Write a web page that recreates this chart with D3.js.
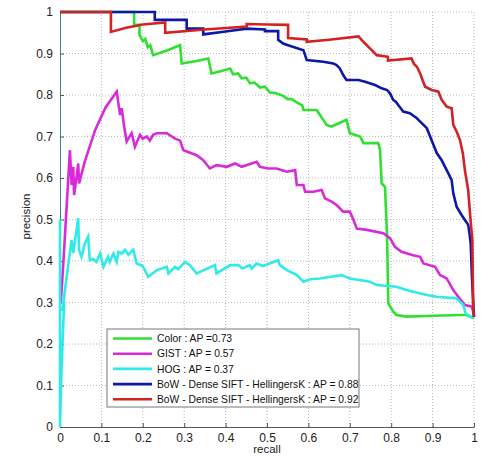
<!DOCTYPE html>
<html>
<head>
<meta charset="utf-8">
<script src="https://cdn.jsdelivr.net/npm/d3@7"></script>
<style>
  body { margin: 0; background: #fff; }
  svg { display: block; font-family: "Liberation Sans", Arial, sans-serif; }
</style>
</head>
<body>
<svg id="pr" width="481" height="459"></svg>
<script>
// precision-recall curves, [recall, precision]
const colorPts = [[0,1],[0.179,1],[0.179,0.969],[0.192,0.969],[0.192,0.945],[0.2,0.93],[0.206,0.935],[0.212,0.915],[0.218,0.92],[0.225,0.896],[0.26,0.908],[0.29,0.92],[0.294,0.876],[0.33,0.882],[0.358,0.888],[0.366,0.852],[0.39,0.858],[0.411,0.864],[0.418,0.85],[0.43,0.852],[0.439,0.84],[0.45,0.842],[0.459,0.828],[0.47,0.83],[0.483,0.818],[0.495,0.82],[0.507,0.806],[0.52,0.805],[0.539,0.798],[0.55,0.79],[0.56,0.79],[0.572,0.782],[0.585,0.775],[0.588,0.764],[0.62,0.764],[0.628,0.752],[0.636,0.74],[0.644,0.728],[0.656,0.724],[0.692,0.74],[0.7,0.708],[0.725,0.7],[0.733,0.684],[0.769,0.684],[0.773,0.667],[0.777,0.587],[0.785,0.579],[0.79,0.46],[0.793,0.298],[0.805,0.278],[0.813,0.27],[0.837,0.266],[0.902,0.268],[0.966,0.27],[0.982,0.27],[1,0.262]];
const gistPts = [[0.002,0.3],[0.008,0.394],[0.024,0.667],[0.028,0.583],[0.032,0.627],[0.034,0.559],[0.04,0.603],[0.044,0.635],[0.046,0.587],[0.06,0.64],[0.085,0.716],[0.11,0.77],[0.137,0.808],[0.145,0.752],[0.149,0.768],[0.155,0.724],[0.161,0.688],[0.173,0.708],[0.181,0.675],[0.193,0.704],[0.2,0.695],[0.21,0.7],[0.217,0.69],[0.225,0.704],[0.234,0.708],[0.258,0.708],[0.278,0.695],[0.29,0.69],[0.298,0.667],[0.33,0.655],[0.346,0.643],[0.362,0.623],[0.378,0.631],[0.403,0.627],[0.423,0.635],[0.439,0.627],[0.475,0.639],[0.483,0.627],[0.503,0.623],[0.523,0.623],[0.548,0.615],[0.568,0.619],[0.572,0.583],[0.588,0.583],[0.592,0.567],[0.612,0.567],[0.632,0.571],[0.64,0.551],[0.656,0.543],[0.668,0.535],[0.684,0.519],[0.7,0.519],[0.709,0.499],[0.717,0.478],[0.741,0.475],[0.781,0.467],[0.797,0.455],[0.809,0.434],[0.825,0.422],[0.853,0.414],[0.87,0.41],[0.878,0.394],[0.906,0.386],[0.918,0.366],[0.934,0.358],[0.95,0.33],[0.962,0.314],[0.978,0.294],[0.995,0.29],[1,0.27]];
const hogPts = [[0,0.5],[0,0],[0.004,0.15],[0.002,0.1],[0.01,0.3],[0.006,0.28],[0.013,0.338],[0.028,0.451],[0.032,0.419],[0.04,0.475],[0.044,0.503],[0.046,0.427],[0.052,0.41],[0.06,0.442],[0.068,0.459],[0.072,0.402],[0.08,0.405],[0.088,0.398],[0.097,0.418],[0.105,0.386],[0.116,0.41],[0.12,0.398],[0.129,0.418],[0.137,0.398],[0.141,0.422],[0.15,0.418],[0.157,0.427],[0.165,0.415],[0.177,0.427],[0.185,0.394],[0.2,0.388],[0.213,0.362],[0.234,0.378],[0.258,0.386],[0.262,0.37],[0.278,0.386],[0.285,0.38],[0.302,0.398],[0.314,0.39],[0.33,0.37],[0.374,0.39],[0.378,0.37],[0.411,0.39],[0.431,0.39],[0.44,0.382],[0.459,0.39],[0.463,0.382],[0.475,0.394],[0.49,0.388],[0.527,0.402],[0.531,0.39],[0.548,0.378],[0.572,0.366],[0.588,0.35],[0.604,0.356],[0.628,0.358],[0.68,0.366],[0.7,0.358],[0.749,0.35],[0.765,0.342],[0.813,0.338],[0.837,0.33],[0.886,0.318],[0.91,0.314],[0.958,0.31],[0.974,0.294],[0.98,0.273],[1,0.262]];
const bowBluePts = [[0,1],[0.229,1],[0.229,0.981],[0.306,0.981],[0.306,0.96],[0.346,0.96],[0.346,0.946],[0.4,0.953],[0.451,0.96],[0.495,0.958],[0.495,0.954],[0.527,0.954],[0.527,0.933],[0.539,0.924],[0.551,0.92],[0.588,0.908],[0.596,0.884],[0.636,0.88],[0.66,0.876],[0.668,0.872],[0.676,0.864],[0.68,0.856],[0.684,0.848],[0.692,0.836],[0.721,0.836],[0.737,0.832],[0.761,0.824],[0.777,0.816],[0.79,0.812],[0.797,0.804],[0.805,0.788],[0.811,0.784],[0.817,0.776],[0.823,0.768],[0.829,0.76],[0.845,0.756],[0.862,0.744],[0.87,0.736],[0.878,0.728],[0.886,0.72],[0.894,0.7],[0.902,0.68],[0.91,0.66],[0.922,0.643],[0.93,0.627],[0.938,0.611],[0.946,0.595],[0.95,0.563],[0.958,0.531],[0.97,0.511],[0.978,0.499],[0.986,0.487],[0.989,0.467],[0.992,0.443],[0.995,0.362],[1,0.265]];
const bowRedPts = [[0,1],[0.123,1],[0.123,0.952],[0.16,0.962],[0.2,0.97],[0.254,0.975],[0.254,0.95],[0.35,0.958],[0.451,0.965],[0.451,0.971],[0.5,0.97],[0.551,0.969],[0.551,0.937],[0.596,0.934],[0.596,0.928],[0.65,0.933],[0.721,0.941],[0.729,0.932],[0.737,0.924],[0.745,0.916],[0.753,0.908],[0.765,0.896],[0.792,0.892],[0.792,0.883],[0.849,0.888],[0.855,0.875],[0.862,0.868],[0.87,0.852],[0.876,0.835],[0.882,0.82],[0.898,0.812],[0.914,0.808],[0.922,0.788],[0.934,0.772],[0.946,0.768],[0.95,0.728],[0.958,0.712],[0.966,0.692],[0.973,0.66],[0.978,0.619],[0.986,0.571],[0.99,0.519],[0.996,0.45],[0.998,0.282],[1,0.265]];

const seriesNames = ["Color : AP =0.73", "GIST : AP = 0.57", "HOG : AP = 0.37",
  "BoW - Dense SIFT - HellingersK : AP = 0.88", "BoW - Dense SIFT - HellingersK : AP = 0.92"];
const seriesColors = ["#30e030", "#d92ad9", "#30eaea", "#0c18a8", "#d42222"];
const seriesData = [colorPts, gistPts, hogPts, bowBluePts, bowRedPts];
const tickVals = [0, 0.1, 0.2, 0.3, 0.4, 0.5, 0.6, 0.7, 0.8, 0.9, 1];

var margin = {top: 12, right: 7, bottom: 32, left: 60},
    width = 481 - margin.left - margin.right,
    height = 459 - margin.top - margin.bottom;

const svg = d3.select("#pr")
  .append("g")
  .attr("transform", "translate(" + margin.left + "," + margin.top + ")");

var x = d3.scaleLinear().domain([0, 1]).range([0, width]);
var y = d3.scaleLinear().domain([0, 1]).range([height, 0]);

// dotted grid
svg.append("g").selectAll("line")
  .data(tickVals.slice(1))
  .enter().append("line")
  .attr("x1", d => x(d)).attr("x2", d => x(d))
  .attr("y1", 0).attr("y2", height)
  .attr("stroke", "#b8b8b8").attr("stroke-dasharray", "1,2");
svg.append("g").selectAll("line")
  .data(tickVals.slice(1))
  .enter().append("line")
  .attr("y1", d => y(d)).attr("y2", d => y(d))
  .attr("x1", 0).attr("x2", width)
  .attr("stroke", "#b8b8b8").attr("stroke-dasharray", "1,2");

// axes, ticks pointing inward
const xAxis = svg.append("g")
  .attr("transform", "translate(0," + height + ")")
  .call(d3.axisBottom(x).tickValues(tickVals).tickFormat(d3.format("")).tickSizeInner(-4).tickSizeOuter(0).tickPadding(6));
const yAxis = svg.append("g")
  .call(d3.axisLeft(y).tickValues(tickVals).tickFormat(d3.format("")).tickSizeInner(-4).tickSizeOuter(0).tickPadding(7));
[xAxis, yAxis].forEach(a => {
  a.selectAll("text").style("font-size", "12px").attr("fill", "#222");
  a.selectAll("line").attr("stroke", "#555");
});
xAxis.select(".domain").attr("stroke", "#555");
yAxis.select(".domain").attr("stroke", "#3d8585");

// curves
const line = d3.line().x(d => x(d[0])).y(d => y(d[1]));
svg.append("g").selectAll("path")
  .data(seriesData)
  .enter().append("path")
  .attr("d", d => line(d))
  .attr("fill", "none")
  .attr("stroke", (d, i) => seriesColors[i])
  .attr("stroke-width", 2.6)
  .attr("stroke-linejoin", "miter");

// axis labels
svg.append("text")
  .attr("x", width / 2)
  .attr("y", height + 26)
  .style("text-anchor", "middle")
  .style("font-size", "11.5px")
  .attr("fill", "#222")
  .text("recall");
svg.append("text")
  .attr("transform", "rotate(-90)")
  .attr("x", -height / 2 + 3)
  .attr("y", -30)
  .style("text-anchor", "middle")
  .style("font-size", "11.5px")
  .attr("fill", "#222")
  .text("precision");

// legend
const leg = svg.append("g").attr("transform", "translate(" + (107 - margin.left) + "," + (329 - margin.top) + ")");
leg.append("rect")
  .attr("width", 252).attr("height", 78)
  .attr("fill", "#fff").attr("stroke", "#777");
const rows = leg.selectAll("g.row")
  .data(seriesNames)
  .enter().append("g")
  .attr("class", "row")
  .attr("transform", (d, i) => "translate(0," + (9.5 + i * 15.2) + ")");
rows.append("line")
  .attr("x1", 6).attr("x2", 45)
  .attr("stroke", (d, i) => seriesColors[i])
  .attr("stroke-width", 2.6);
rows.append("text")
  .attr("x", 50).attr("dy", "0.35em")
  .style("font-size", "10.3px")
  .attr("fill", "#111")
  .text(d => d);
</script>
</body>
</html>
